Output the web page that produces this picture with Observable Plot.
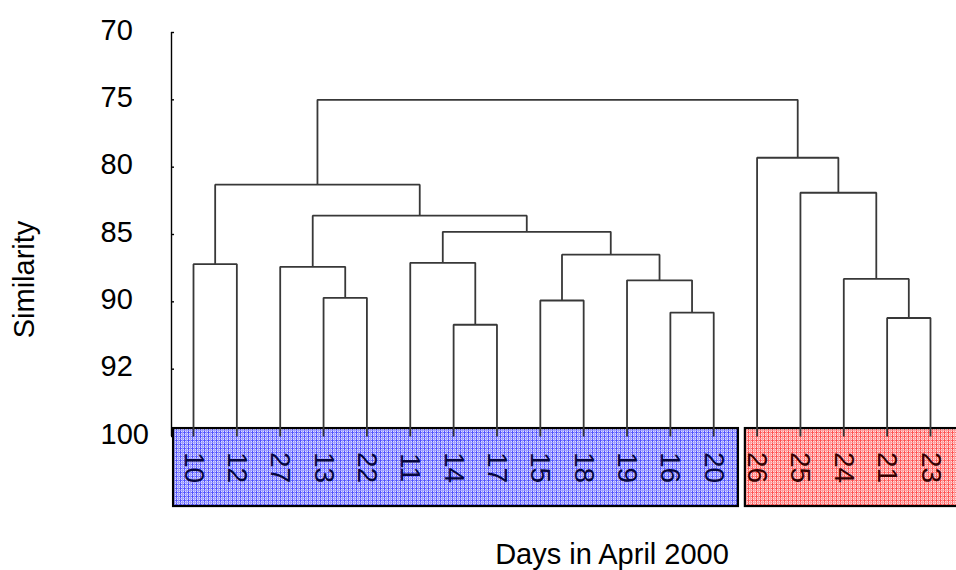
<!DOCTYPE html>
<html>
<head>
<meta charset="utf-8">
<script src="https://cdn.jsdelivr.net/npm/d3@7"></script>
<script src="https://cdn.jsdelivr.net/npm/@observablehq/plot@0.6"></script>
<style>
  body { margin: 0; background: #fff; overflow: hidden; }
</style>
</head>
<body>
<div id="chart"></div>
<script>
// Days in leaf order, left to right
const leaves = ["10", "12", "27", "13", "22", "11", "14", "17", "15", "18", "19", "16", "20",
                "26", "25", "24", "21", "23"];

// Agglomerative merges: [left cluster, right cluster, similarity].
// A cluster is a day or "m<k>", the k-th merge in this list.
const merges = [
  ["10", "12", 87.2],   // m0
  ["13", "22", 89.7],   // m1
  ["27", "m1", 87.4],   // m2
  ["14", "17", 91.7],   // m3
  ["11", "m3", 87.1],   // m4
  ["15", "18", 89.9],   // m5
  ["16", "20", 90.8],   // m6
  ["19", "m6", 88.4],   // m7
  ["m5", "m7", 86.5],   // m8
  ["m4", "m8", 84.8],   // m9
  ["m2", "m9", 83.6],   // m10
  ["m0", "m10", 81.3],  // m11
  ["21", "23", 91.2],   // m12
  ["24", "m12", 88.3],  // m13
  ["25", "m13", 81.9],  // m14
  ["26", "m14", 79.3],  // m15
  ["m11", "m15", 75.0]  // m16
];

// Similarity axis
const yTickValues = [70, 75, 80, 85, 90, 95, 100];
const yTickLabels = ["70", "75", "80", "85", "90", "92", "100"];

// The two day groups (first and last leaf of each)
const groupFirst = ["10", "26"];
const groupLast = ["20", "23"];

// ---- styling ----
const FONT = "Liberation Sans, Arial, Helvetica, sans-serif";
const groupStyle = [
  {fill: "url(#gridBlue)", text: "#06063e", padLeft: 0.46, padRight: 0.57},
  {fill: "url(#gridRed)", text: "#360000", padLeft: 0.27, padRight: 0.9}
];
const xMin = -0.5075, xMax = 17.6;

// ---- dendrogram layout: leaf index for x, similarity for height ----
const nodes = new Map();
leaves.forEach((d, i) => nodes.set(d, {x: i, h: 100}));
const brackets = [];
merges.forEach(([a, b, h], k) => {
  const A = nodes.get(a), B = nodes.get(b), id = "m" + k;
  brackets.push(
    {id, x: A.x, y: A.h}, {id, x: A.x, y: h},
    {id, x: B.x, y: h}, {id, x: B.x, y: B.h}
  );
  nodes.set(id, {x: (A.x + B.x) / 2, h});
});

const groups = groupFirst.map((f, g) => ({
  x1: leaves.indexOf(f) - groupStyle[g].padLeft,
  x2: leaves.indexOf(groupLast[g]) + groupStyle[g].padRight,
  fill: groupStyle[g].fill
}));
const leafData = leaves.map((d, i) => ({
  day: d, x: i,
  color: groupStyle[i <= leaves.indexOf(groupLast[0]) ? 0 : 1].text
}));

// Plaid fill patterns for the group boxes
function patterns() {
  const ns = "http://www.w3.org/2000/svg";
  const defs = document.createElementNS(ns, "defs");
  const make = (id, bg, strong, soft) => {
    const p = document.createElementNS(ns, "pattern");
    p.setAttribute("id", id);
    p.setAttribute("width", 4);
    p.setAttribute("height", 4);
    p.setAttribute("patternUnits", "userSpaceOnUse");
    p.innerHTML =
      `<rect width="4" height="4" fill="${bg}"/>` +
      `<rect x="0" y="0" width="1" height="4" fill="${strong}"/>` +
      `<rect x="0" y="0" width="4" height="1" fill="${strong}" fill-opacity="0.8"/>` +
      `<rect x="2" y="0" width="1" height="4" fill="${soft}"/>` +
      `<rect x="0" y="2" width="4" height="1" fill="${soft}" fill-opacity="0.8"/>`;
    defs.appendChild(p);
  };
  make("gridBlue", "#dcdcff", "#5050ff", "#9c9cff");
  make("gridRed", "#ffdcdc", "#ff5050", "#ff9c9c");
  return defs;
}

const chart = Plot.plot({
  width: 956,
  height: 570,
  marginTop: 32,
  marginBottom: 134,
  marginLeft: 171,
  marginRight: 0,
  style: {fontFamily: FONT, background: "#fff", color: "#000"},
  x: {type: "linear", domain: [xMin, xMax], axis: null},
  y: {domain: [70, 100], reverse: true, axis: null},
  marks: [
    patterns,
    // similarity axis line, inward ticks and left-aligned labels
    Plot.ruleX([xMin], {y1: 70, y2: 100, stroke: "#000", strokeWidth: 1.4}),
    Plot.ruleY(yTickValues, {y: d => d, x1: xMin, x2: xMin + 0.07, stroke: "#000", strokeWidth: 1.4}),
    Plot.text(yTickValues, {
      y: d => d, text: (d, i) => yTickLabels[i], frameAnchor: "left",
      textAnchor: "start", lineAnchor: "middle", dx: -71, dy: -2, fontSize: 29, fill: "#000"
    }),
    Plot.text(["Similarity"], {
      frameAnchor: "left", textAnchor: "middle", lineAnchor: "middle",
      rotate: -90, dx: -147, dy: 45, fontSize: 29, fill: "#000"
    }),
    // group boxes behind the leaves
    Plot.rect(groups, {
      x1: "x1", x2: "x2", y1: 99.41, y2: 105.2,
      fill: d => d.fill, stroke: "#000", strokeWidth: 2.2
    }),
    // dendrogram brackets
    Plot.line(brackets, {
      x: "x", y: "y", z: "id", stroke: "#383838", strokeWidth: 1.8,
      strokeLinejoin: "miter", strokeLinecap: "butt"
    }),
    // day labels
    Plot.text(leafData, {
      x: "x", text: "day", frameAnchor: "bottom", textAnchor: "middle", lineAnchor: "middle",
      rotate: 90, dy: 31, fontSize: 28, fill: d => d.color
    }),
    Plot.text(["Days in April 2000"], {
      frameAnchor: "bottom", textAnchor: "middle", lineAnchor: "middle",
      dx: 48, dy: 118, fontSize: 29, fill: "#000"
    })
  ]
});

document.getElementById("chart").appendChild(chart);
</script>
</body>
</html>
